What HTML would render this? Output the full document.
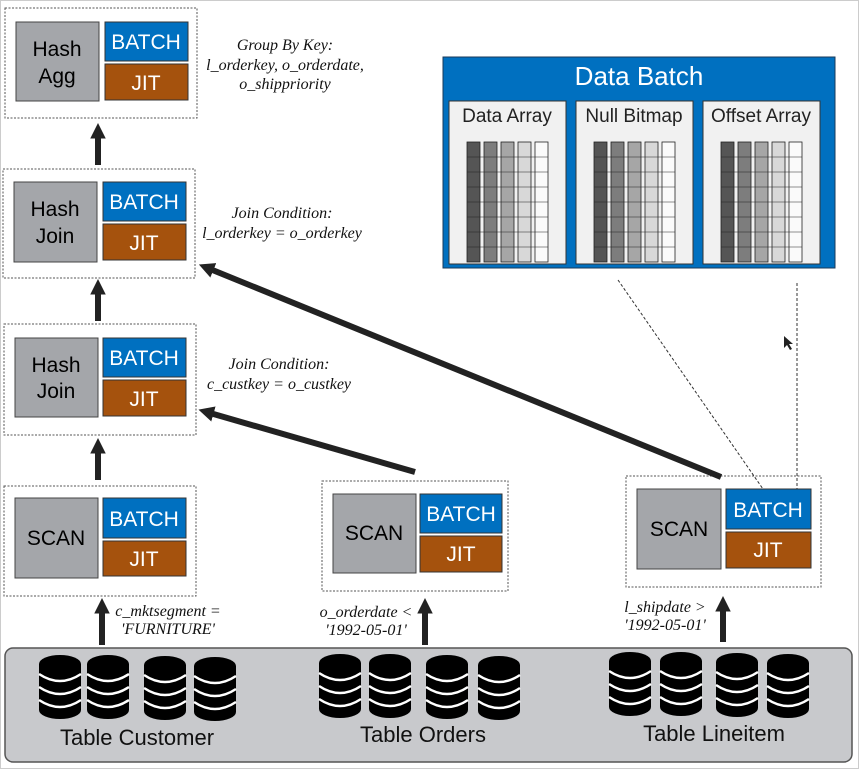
<!DOCTYPE html>
<html><head><meta charset="utf-8"><style>
html,body{margin:0;padding:0;background:#fff}
svg{display:block}
.s{font-family:"Liberation Sans",sans-serif}
.i{font-family:"Liberation Serif",serif;font-style:italic;font-size:16px;fill:#111}
</style></head><body>
<svg width="860" height="770" viewBox="0 0 860 770" xmlns="http://www.w3.org/2000/svg">
<defs>
<g id="db">
<rect x="-21" y="-22" width="42" height="46" fill="#000"/>
<ellipse cx="0" cy="-22" rx="21" ry="9" fill="#000"/>
<ellipse cx="0" cy="24" rx="21" ry="9" fill="#000"/>
<path d="M-21,-12 Q0,2 21,-12" stroke="#fff" stroke-width="2.5" fill="none"/>
<path d="M-21,1 Q0,15 21,1" stroke="#fff" stroke-width="2.5" fill="none"/>
<path d="M-21,14 Q0,28 21,14" stroke="#fff" stroke-width="2.5" fill="none"/>
</g>
<g id="cols">
<g stroke="#222" stroke-width="0.8">
<rect x="0" y="0" width="13" height="120" fill="#555"/>
<rect x="17" y="0" width="13" height="120" fill="#7d7d7d"/>
<rect x="34" y="0" width="13" height="120" fill="#a6a6a6"/>
<rect x="51" y="0" width="13" height="120" fill="#d8d8d8"/>
<rect x="68" y="0" width="13" height="120" fill="#fafafa"/>
</g>
<g stroke="#222" stroke-width="0.6">
<line x1="0" y1="15" x2="81" y2="15"/><line x1="0" y1="30" x2="81" y2="30"/><line x1="0" y1="45" x2="81" y2="45"/><line x1="0" y1="60" x2="81" y2="60"/><line x1="0" y1="75" x2="81" y2="75"/><line x1="0" y1="90" x2="81" y2="90"/><line x1="0" y1="105" x2="81" y2="105"/>
</g>
</g>
<marker id="ah" markerWidth="2.6" markerHeight="2.6" refX="0.6" refY="1.3" orient="auto" markerUnits="strokeWidth"><path d="M0,0 L2.6,1.3 L0,2.6 Z" fill="#222"/></marker>
</defs>
<rect x="0.5" y="0.5" width="858" height="768" fill="#fff" stroke="#ccc"/>

<g class="s" font-size="21" text-anchor="middle">
<rect x="5" y="8" width="192" height="110" fill="#fff" stroke="#555" stroke-dasharray="2,1.5"/>
<rect x="16" y="22" width="83" height="79" fill="#a4a6aa" stroke="#444"/>
<text x="57" y="56">Hash</text><text x="57" y="83">Agg</text>
<rect x="105" y="22" width="83" height="39" fill="#0070c0" stroke="#333"/>
<text x="146" y="49" fill="#fff">BATCH</text>
<rect x="105" y="64" width="83" height="36" fill="#a5520d" stroke="#333"/>
<text x="146" y="90" fill="#fff">JIT</text>

<rect x="3" y="169" width="192" height="109" fill="#fff" stroke="#555" stroke-dasharray="2,1.5"/>
<rect x="14" y="182" width="83" height="80" fill="#a4a6aa" stroke="#444"/>
<text x="55" y="216">Hash</text><text x="55" y="243">Join</text>
<rect x="103" y="182" width="83" height="39" fill="#0070c0" stroke="#333"/>
<text x="144" y="209" fill="#fff">BATCH</text>
<rect x="103" y="224" width="83" height="36" fill="#a5520d" stroke="#333"/>
<text x="144" y="250" fill="#fff">JIT</text>

<rect x="4" y="324" width="192" height="111" fill="#fff" stroke="#555" stroke-dasharray="2,1.5"/>
<rect x="15" y="338" width="83" height="79" fill="#a4a6aa" stroke="#444"/>
<text x="56" y="372">Hash</text><text x="56" y="398">Join</text>
<rect x="103" y="338" width="83" height="39" fill="#0070c0" stroke="#333"/>
<text x="144" y="365" fill="#fff">BATCH</text>
<rect x="103" y="380" width="83" height="36" fill="#a5520d" stroke="#333"/>
<text x="144" y="406" fill="#fff">JIT</text>

<rect x="4" y="486" width="192" height="110" fill="#fff" stroke="#555" stroke-dasharray="2,1.5"/>
<rect x="15" y="498" width="83" height="80" fill="#a4a6aa" stroke="#444"/>
<text x="56" y="545">SCAN</text>
<rect x="103" y="498" width="83" height="40" fill="#0070c0" stroke="#333"/>
<text x="144" y="526" fill="#fff">BATCH</text>
<rect x="103" y="541" width="83" height="35" fill="#a5520d" stroke="#333"/>
<text x="144" y="566" fill="#fff">JIT</text>

<rect x="322" y="481" width="186" height="110" fill="#fff" stroke="#555" stroke-dasharray="2,1.5"/>
<rect x="333" y="494" width="83" height="79" fill="#a4a6aa" stroke="#444"/>
<text x="374" y="540">SCAN</text>
<rect x="420" y="494" width="82" height="39" fill="#0070c0" stroke="#333"/>
<text x="461" y="521" fill="#fff">BATCH</text>
<rect x="420" y="536" width="82" height="36" fill="#a5520d" stroke="#333"/>
<text x="461" y="561" fill="#fff">JIT</text>

<rect x="626" y="476" width="195" height="111" fill="#fff" stroke="#555" stroke-dasharray="2,1.5"/>
<rect x="637" y="489" width="84" height="80" fill="#a4a6aa" stroke="#444"/>
<text x="679" y="536">SCAN</text>
<rect x="726" y="489" width="85" height="40" fill="#0070c0" stroke="#333"/>
<text x="768" y="517" fill="#fff">BATCH</text>
<rect x="726" y="532" width="85" height="36" fill="#a5520d" stroke="#333"/>
<text x="768" y="557" fill="#fff">JIT</text>
</g>

<g class="i" text-anchor="middle">
<text x="285" y="50">Group By Key:</text>
<text x="285" y="70">l_orderkey, o_orderdate,</text>
<text x="285" y="89">o_shippriority</text>
<text x="282" y="218">Join Condition:</text>
<text x="282" y="238">l_orderkey = o_orderkey</text>
<text x="279" y="369">Join Condition:</text>
<text x="279" y="389">c_custkey = o_custkey</text>
<text x="168" y="616">c_mktsegment =</text>
<text x="168" y="634">'FURNITURE'</text>
<text x="366" y="617">o_orderdate &lt;</text>
<text x="366" y="635">'1992-05-01'</text>
<text x="665" y="612">l_shipdate &gt;</text>
<text x="665" y="630">'1992-05-01'</text>
</g>

<g stroke="#222" stroke-width="6" fill="none" marker-end="url(#ah)">
<line x1="98" y1="165" x2="98" y2="135"/>
<line x1="98" y1="321" x2="98" y2="291"/>
<line x1="98" y1="480" x2="98" y2="450"/>
<line x1="102" y1="645" x2="102" y2="610"/>
<line x1="425" y1="645" x2="425" y2="610"/>
<line x1="723" y1="642" x2="723" y2="608"/>
<line x1="415" y1="472" x2="210" y2="413"/>
<line x1="721" y1="477" x2="210" y2="269"/>
</g>
<g stroke="#333" stroke-width="1" stroke-dasharray="3,2">
<line x1="618" y1="280" x2="763" y2="489"/>
<line x1="797" y1="283" x2="797" y2="489"/>
</g>
<path d="M784,336 L784,348 L787,345 L790,350 L792,349 L789,344 L793,344 Z" fill="#222"/>

<rect x="443" y="57" width="392" height="211" fill="#0070c0" stroke="#1a3a5a"/>
<text x="639" y="85" class="s" font-size="26" fill="#fff" text-anchor="middle">Data Batch</text>
<g class="s" font-size="19" text-anchor="middle" fill="#222">
<rect x="449" y="101" width="117" height="163" fill="#f1f1f1" stroke="#333"/>
<text x="507" y="122">Data Array</text>
<rect x="576" y="101" width="117" height="163" fill="#f1f1f1" stroke="#333"/>
<text x="634" y="122">Null Bitmap</text>
<rect x="703" y="101" width="117" height="163" fill="#f1f1f1" stroke="#333"/>
<text x="761" y="122">Offset Array</text>
</g>
<use href="#cols" x="467" y="142"/>
<use href="#cols" x="594" y="142"/>
<use href="#cols" x="721" y="142"/>

<rect x="5" y="648" width="847" height="114" rx="8" fill="#c8c9cc" stroke="#555" stroke-width="1.5"/>
<use href="#db" x="60" y="686"/><use href="#db" x="108" y="686"/><use href="#db" x="165" y="687"/><use href="#db" x="215" y="688"/>
<use href="#db" x="340" y="685"/><use href="#db" x="390" y="685"/><use href="#db" x="447" y="686"/><use href="#db" x="499" y="687"/>
<use href="#db" x="630" y="683"/><use href="#db" x="681" y="683"/><use href="#db" x="737" y="684"/><use href="#db" x="788" y="685"/>
<g class="s" font-size="22" text-anchor="middle" fill="#111">
<text x="137" y="745">Table Customer</text>
<text x="423" y="742">Table Orders</text>
<text x="714" y="741">Table Lineitem</text>
</g>
</svg>
</body></html>
